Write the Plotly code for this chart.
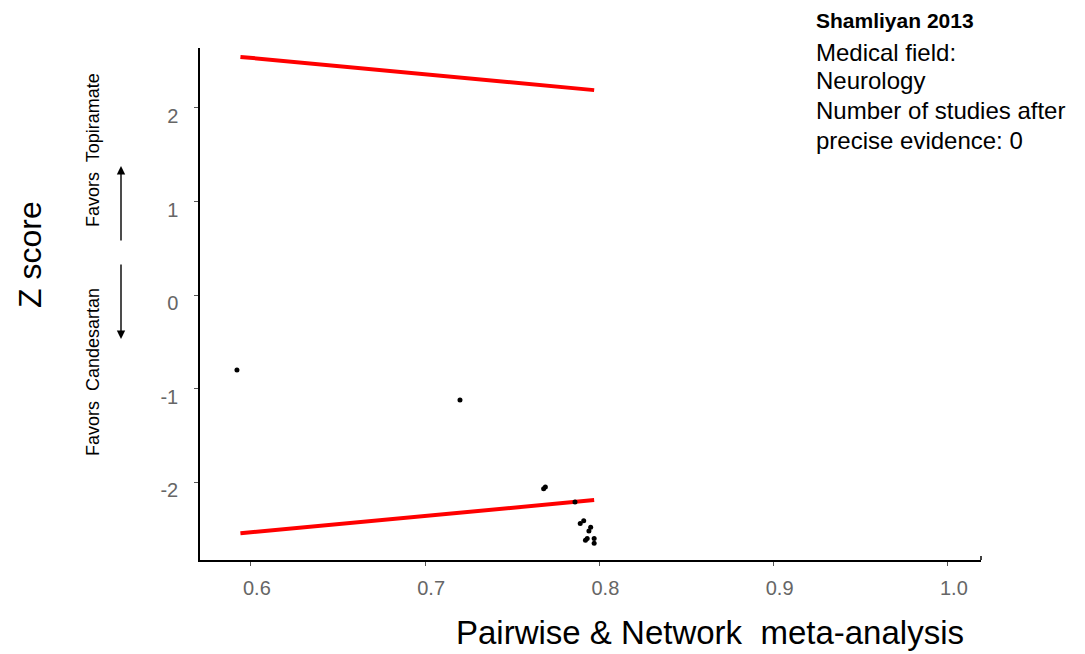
import plotly.graph_objects as go

# Cumulative Z-scores for each study (information fraction vs Z)
info_frac = [0.592, 0.720, 0.768, 0.769, 0.786, 0.789, 0.791, 0.795, 0.794, 0.793, 0.792, 0.797, 0.797]
z_scores = [-0.80, -1.12, -2.07, -2.05, -2.21, -2.44, -2.41, -2.48, -2.52, -2.60, -2.62, -2.60, -2.65]

# Monitoring boundaries
bound_x = [0.594, 0.720, 0.768, 0.797]
upper_bound = [2.545, 2.325, 2.240, 2.190]
lower_bound = [-2.545, -2.325, -2.240, -2.190]

x_ticks = [0.6, 0.7, 0.8, 0.9, 1.0]
x_tick_text = ["0.6", "0.7", "0.8", "0.9", "1.0"]
y_ticks = [-2, -1, 0, 1, 2]

info_lines = ["<b>Shamliyan 2013</b>", "Medical field:", "Neurology",
              "Number of studies after", "precise evidence: 0"]

FONT = "Liberation Sans, Arial, sans-serif"
L, R, T, B = 200, 981, 48, 560
W, H = 1085, 654


def px(x):
    return (x - L) / (R - L)


def py(y):
    return (B - y) / (B - T)


fig = go.Figure()
fig.add_trace(go.Scatter(x=bound_x, y=upper_bound, mode="lines",
                         line=dict(color="#ff0000", width=4), showlegend=False))
fig.add_trace(go.Scatter(x=bound_x, y=lower_bound, mode="lines",
                         line=dict(color="#ff0000", width=4), showlegend=False))
fig.add_trace(go.Scatter(x=info_frac, y=z_scores, mode="markers",
                         marker=dict(color="black", size=5), showlegend=False))

annotations = []
line_y = [20, 52, 80, 110, 140]
for i, line in enumerate(info_lines):
    annotations.append(dict(text=line, xref="paper", yref="paper",
                            x=px(814), y=py(line_y[i]), xanchor="left", yanchor="middle",
                            showarrow=False,
                            font=dict(family=FONT, size=21 if i == 0 else 24, color="black")))

annotations += [
    dict(text="Z score", xref="paper", yref="paper", x=px(30), y=py(255),
         textangle=-90, showarrow=False, xanchor="center", yanchor="middle",
         font=dict(family=FONT, size=32, color="black")),
    dict(text="Pairwise & Network  meta-analysis", xref="paper", yref="paper",
         x=px(710), y=py(632), showarrow=False, xanchor="center", yanchor="middle",
         font=dict(family=FONT, size=33, color="black")),
    dict(text="Favors  Topiramate", xref="paper", yref="paper", x=px(93), y=py(150),
         textangle=-90, showarrow=False, xanchor="center", yanchor="middle",
         font=dict(family=FONT, size=18, color="black")),
    dict(text="Favors  Candesartan", xref="paper", yref="paper", x=px(93), y=py(372),
         textangle=-90, showarrow=False, xanchor="center", yanchor="middle",
         font=dict(family=FONT, size=18, color="black")),
    dict(text="", xref="paper", yref="paper", x=px(121), y=py(166),
         ax=0, ay=76, showarrow=True, arrowhead=2, arrowsize=1.2, arrowwidth=1.4,
         arrowcolor="black"),
    dict(text="", xref="paper", yref="paper", x=px(121), y=py(339),
         ax=0, ay=-76, showarrow=True, arrowhead=2, arrowsize=1.2, arrowwidth=1.4,
         arrowcolor="black"),
]

fig.update_layout(
    width=W, height=H,
    margin=dict(l=L, r=W - R, t=T, b=H - B),
    plot_bgcolor="white", paper_bgcolor="white",
    annotations=annotations,
    font=dict(family=FONT),
    # small end cap on the right of the x axis line
    shapes=[dict(type="line", xref="paper", yref="paper", x0=1, x1=1,
                 y0=0, y1=py(B - 4), line=dict(color="black", width=1.5))],
)
fig.update_xaxes(range=[0.5708, 1.019], tickvals=x_ticks, ticktext=x_tick_text,
                 showgrid=False, zeroline=False, showline=True, linecolor="black",
                 linewidth=1.5, ticks="outside", ticklen=4, tickcolor="#555555",
                 ticklabelshift=6, ticklabelstandoff=5,
                 tickfont=dict(family=FONT, size=20, color="#666666"))
fig.update_yaxes(range=[-2.83, 2.64], tickvals=y_ticks, ticktext=[str(v) for v in y_ticks],
                 showgrid=False, zeroline=False, showline=True, linecolor="black",
                 linewidth=1.5, ticks="outside", ticklen=4, tickcolor="#555555",
                 ticklabelshift=8, ticklabelstandoff=12,
                 tickfont=dict(family=FONT, size=20, color="#666666"))

fig.write_html("out.html")
